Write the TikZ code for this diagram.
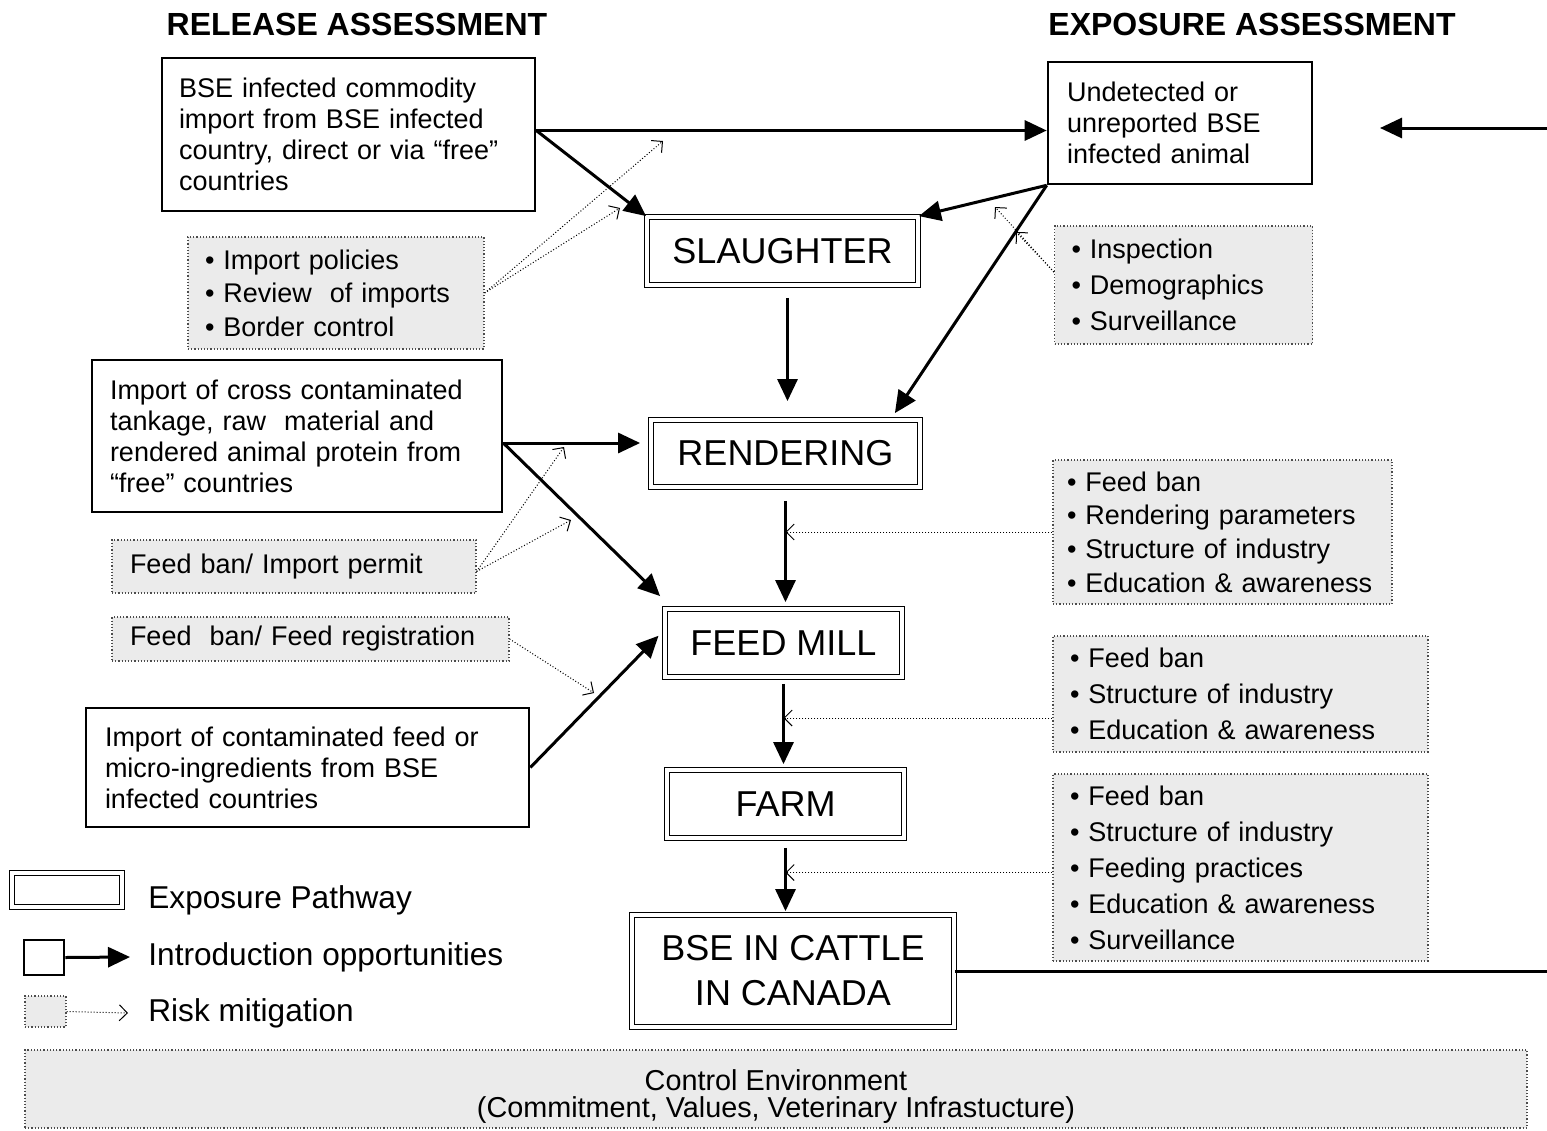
\documentclass[tikz,border=0pt]{standalone}
\usepackage{fontspec}
\setmainfont{Liberation Sans}
\usetikzlibrary{arrows.meta,positioning}

\begin{document}
\begin{tikzpicture}[
    x=0.5pt, y=-0.5pt,
    introbox/.style={rectangle, draw, line width=1.3pt, align=left, inner xsep=8.5pt, font=\fontsize{13.5}{15.5}\selectfont},
    pathbox/.style={rectangle, draw, double, double distance=1.6pt, line width=0.9pt, align=center, font=\fontsize{18}{22.5}\selectfont},
    mitbox/.style={rectangle, draw=gray!60!black, densely dotted, line width=0.6pt, fill=gray!16, align=left, inner xsep=8.5pt, font=\fontsize{13.5}{18}\selectfont},
    title/.style={font=\fontsize{16}{19}\selectfont\bfseries},
    legend/.style={anchor=west, inner sep=0pt, font=\fontsize{15.8}{18}\selectfont},
    arrow/.style={-{Triangle[length=11pt,width=10pt]}, line width=1.5pt},
    mitarrow/.style={-{Straight Barb[length=4pt,width=8pt]}, densely dotted, line width=0.5pt}
]
    \useasboundingbox (0,0) rectangle (1547,1130);

    \node[title] (reltitle) at (357,24) {RELEASE ASSESSMENT};
    \node[title] (exptitle) at (1252,24) {EXPOSURE ASSESSMENT};

    \node[introbox, minimum width=186.5pt, minimum height=76.5pt, text width=169.5pt] (commodity) at (348.5,134.5)
        {BSE infected commodity\\import from BSE infected\\country, direct or via “free”\\countries};
    \node[introbox, minimum width=132pt, minimum height=61pt, text width=113pt] (undetected) at (1180,123)
        {Undetected or\\unreported BSE\\infected animal};
    \node[mitbox, minimum width=146pt, minimum height=56pt, text width=131pt, font=\fontsize{13.5}{16.8}\selectfont] (importpol) at (336,293)
        {• Import policies\\• Review\ \ of imports\\• Border control};
    \node[pathbox, minimum width=135.5pt, minimum height=34pt] (slaughter) at (782.5,251) {SLAUGHTER};
    \node[mitbox, minimum width=128.5pt, minimum height=59pt, text width=112pt] (inspect) at (1183.5,285)
        {• Inspection\\• Demographics\\• Surveillance};
    \node[introbox, minimum width=205pt, minimum height=76pt, text width=187pt] (tankage) at (297,436)
        {Import of cross contaminated\\tankage, raw\ \ material and\\rendered animal protein from\\“free” countries};
    \node[pathbox, minimum width=134.5pt, minimum height=33.5pt] (rendering) at (785.5,453.5) {RENDERING};
    \node[mitbox, minimum width=169.5pt, minimum height=72pt, inner xsep=7pt, text width=155.5pt, font=\fontsize{13.5}{16.8}\selectfont] (rendmit) at (1222.5,532)
        {• Feed ban\\• Rendering parameters\\• Structure of industry\\• Education \& awareness};
    \node[mitbox, minimum width=182pt, minimum height=26.5pt, text width=164pt] (permit) at (294,566.5)
        {Feed ban/ Import permit};
    \node[mitbox, minimum width=198.5pt, minimum height=22pt, text width=180.5pt] (registr) at (310.5,639)
        {Feed\ \ ban/ Feed registration};
    \node[pathbox, minimum width=118.5pt, minimum height=34pt] (feedmill) at (783.5,643) {FEED MILL};
    \node[mitbox, minimum width=187.5pt, minimum height=58pt, text width=170.5pt] (millmit) at (1240.5,694)
        {• Feed ban\\• Structure of industry\\• Education \& awareness};
    \node[introbox, minimum width=221.5pt, minimum height=59.5pt, text width=202.5pt] (feedimp) at (307.5,767.5)
        {Import of contaminated feed or\\micro-ingredients from BSE\\infected countries};
    \node[pathbox, minimum width=118.5pt, minimum height=34pt] (farm) at (785.5,804) {FARM};
    \node[mitbox, minimum width=187.5pt, minimum height=93.5pt, text width=170.5pt] (farmmit) at (1240.5,867.5)
        {• Feed ban\\• Structure of industry\\• Feeding practices\\• Education \& awareness\\• Surveillance};
    \node[pathbox, minimum width=161pt, minimum height=56pt] (cattle) at (793,971) {BSE IN CATTLE\\IN CANADA};
    \node[mitbox, minimum width=751pt, minimum height=39pt] (control) at (776,1089) {};
    \node[align=center, font=\fontsize{14.4}{13.5}\selectfont] (controltxt) at ([yshift=-4pt]control.center)
        {Control Environment\\(Commitment, Values, Veterinary Infrastucture)};

    % legend
    \node[pathbox, minimum width=55pt, minimum height=17pt] (legpath) at (67,890) {};
    \node[introbox, minimum width=20pt, minimum height=17.5pt] (legintro) at (44,957.5) {};
    \node[mitbox, minimum width=20.5pt, minimum height=15.5pt] (legmit) at (45.5,1011.5) {};
    \node[legend] (legpathtxt) at (148,900) {Exposure Pathway};
    \node[legend] (legintrotxt) at (148,957) {Introduction opportunities};
    \node[legend] (legmittxt) at (148,1013) {Risk mitigation};
    \coordinate (legtipA) at (130,957);
    \coordinate (legtipB) at (128,1013);

    \coordinate (edgetop) at (1547,128);
    \coordinate (loopin) at (1380,128);
    \coordinate (edgebot) at (1547,971);
    \coordinate (ipA) at (663,141);
    \coordinate (ipB) at (620,208);
    \coordinate (insA) at (995,207);
    \coordinate (insB) at (1016,232);
    \coordinate (permA) at (564,447);
    \coordinate (permB) at (571,520);
    \coordinate (regA) at (594,693);

    \draw[arrow] ([yshift=2pt]commodity.east) -- ([yshift=2pt]commodity.east -| undetected.west);
    \draw[arrow] ([yshift=2pt]commodity.east) -- (slaughter.north west);
    \draw[arrow] (undetected.south west) -- (slaughter.north east);
    \draw[arrow] (undetected.south west) -- ([shift={(-13pt,3pt)}]rendering.north east);
    \draw[arrow, shorten <=6pt, shorten >=9pt] ([xshift=2.5pt]slaughter.south) -- ([xshift=2.5pt]slaughter.south |- rendering.north);
    \draw[arrow, shorten >=5pt] ([yshift=-3.5pt]tankage.east) -- ([yshift=-3.5pt]tankage.east -| rendering.west);
    \draw[arrow] ([yshift=-3.5pt]tankage.east) -- ([shift={(-2pt,6pt)}]feedmill.north west);
    \draw[arrow, shorten >=4pt] (feedimp.east) -- ([yshift=6.5pt]feedmill.west);
    \draw[arrow, shorten <=6.5pt, shorten >=3pt] (rendering.south) -- (rendering.south |- feedmill.north);
    \draw[arrow, shorten <=3pt, shorten >=2.5pt] (feedmill.south) -- (feedmill.south |- farm.north);
    \draw[arrow, shorten <=4.5pt, shorten >=1.5pt] (farm.south) -- (farm.south |- cattle.north);
    \draw[line width=1.5pt] (cattle.east) -- (edgebot);
    \draw[arrow] (edgetop) -- (loopin);

    \draw[mitarrow] (importpol.east) -- (ipA);
    \draw[mitarrow] (importpol.east) -- (ipB);
    \draw[mitarrow] ([yshift=6.5pt]inspect.west) -- (insA);
    \draw[mitarrow] ([yshift=6.5pt]inspect.west) -- (insB);
    \draw[mitarrow] ([yshift=-2.5pt]permit.east) -- (permA);
    \draw[mitarrow] ([yshift=-2.5pt]permit.east) -- (permB);
    \draw[mitarrow] (registr.east) -- (regA);
    \draw[mitarrow] (rendmit.west) -- (rendmit.west -| rendering.south);
    \draw[mitarrow] ([yshift=-12pt]millmit.west) -- ([yshift=-12pt]millmit.west -| feedmill.south);
    \draw[mitarrow] ([yshift=-2.5pt]farmmit.west) -- ([yshift=-2.5pt]farmmit.west -| farm.south);

    \draw[arrow] (legintro.east) -- (legtipA);
    \draw[mitarrow] (legmit.east) -- (legtipB);
\end{tikzpicture}
\end{document}
